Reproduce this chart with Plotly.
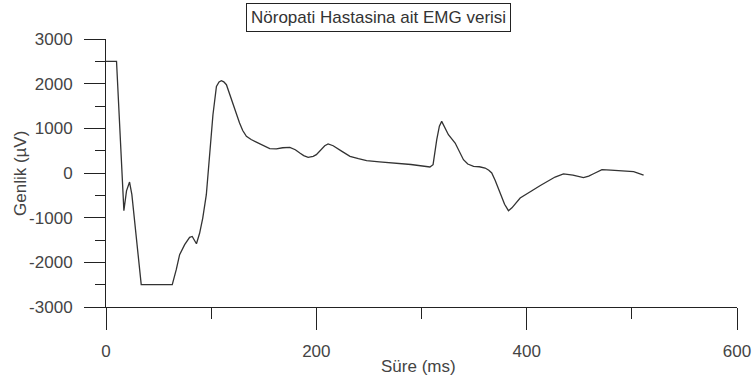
import plotly.graph_objects as go

# Time (ms) and amplitude (µV)
time_ms = [0, 10, 17, 19.5, 22.4, 24.6, 33.5, 63, 66.8, 70, 74.8, 79.5, 82, 86, 89, 92,
           95.4, 98.6, 101.7, 105, 107.5, 109.7, 112, 114.5, 117, 120.8, 124, 127, 130,
           133.5, 138, 143, 150, 155.7, 162, 168, 174.8, 180, 184.3, 188, 192.2, 197, 200,
           204, 208, 211.2, 216, 224, 232, 240, 247.8, 260, 273, 290, 308, 311, 314.5,
           317, 319.2, 322, 325.6, 332, 336, 339.9, 344, 349.5, 355, 360.5, 364, 366.8,
           370, 374.8, 379, 382.7, 386, 393.8, 400, 406.5, 413, 419.2, 427, 435, 444,
           454, 459, 463.6, 471.6, 480, 489, 501.7, 511.2]
amplitude_uv = [2500, 2500, -844, -400, -202, -486, -2500, -2500, -2165, -1829, -1605,
                -1441, -1420, -1583, -1350, -1008, -486, 410, 1305, 1940, 2040, 2067, 2040,
                1977, 1800, 1567, 1330, 1119, 950, 820, 750, 693, 610, 544, 540, 565, 573,
                520, 448, 390, 350, 372, 410, 520, 610, 649, 610, 490, 372, 320, 275, 250,
                224, 190, 134, 186, 746, 1050, 1155, 1010, 858, 672, 470, 298, 200, 148,
                140, 112, 60, 0, -160, -448, -700, -844, -780, -560, -460, -374, -280,
                -188, -90, -22, -50, -105, -70, -16, 74, 65, 51, 29, -45]

x_ticks = [0, 200, 400, 600]
y_ticks = [-3000, -2000, -1000, 0, 1000, 2000, 3000]

title_text = "Nöropati Hastasina ait EMG verisi"
x_title = "Süre (ms)"
y_title = "Genlik (µV)"

FONT = "Liberation Sans, Arial, sans-serif"
TXT = "#444444"
AX = "#222222"

fig = go.Figure()
fig.add_trace(go.Scatter(x=time_ms, y=amplitude_uv, mode="lines",
                         line=dict(color="#333333", width=1.3), showlegend=False,
                         hoverinfo="skip"))

fig.update_layout(
    width=753, height=385,
    margin=dict(l=106, r=16, t=39, b=78),
    paper_bgcolor="white", plot_bgcolor="white",
    font=dict(family=FONT, size=17, color=TXT),
    showlegend=False,
)

fig.update_xaxes(
    range=[0, 600], tickvals=x_ticks, ticktext=[str(v) for v in x_ticks],
    automargin=False,
    showgrid=False, zeroline=False, showline=True, linecolor=AX, linewidth=1,
    ticks="outside", ticklen=22, tickcolor=AX, tickwidth=1,
    minor=dict(dtick=100, tick0=0, ticks="outside", ticklen=11, tickcolor=AX, tickwidth=1, showgrid=False),
    tickfont=dict(family=FONT, size=17, color=TXT),
    ticklabelstandoff=7,
)
fig.update_yaxes(
    range=[-3000, 3000], tickvals=y_ticks, ticktext=[str(v) for v in y_ticks],
    automargin=False,
    showgrid=False, zeroline=False, showline=True, linecolor=AX, linewidth=1,
    ticks="outside", ticklen=21, tickcolor=AX, tickwidth=1,
    minor=dict(dtick=500, tick0=0, ticks="outside", ticklen=10, tickcolor=AX, tickwidth=1, showgrid=False),
    tickfont=dict(family=FONT, size=17, color=TXT),
    ticklabelstandoff=8,
)

fig.add_annotation(text=title_text, xref="paper", yref="paper",
                   x=(378.8 - 106) / 631, y=1 + (39 - 17.5) / 268,
                   xanchor="center", yanchor="middle", showarrow=False,
                   font=dict(family=FONT, size=17, color="#333333"),
                   bordercolor="#222222", borderwidth=1, borderpad=4, bgcolor="white")
fig.add_annotation(text=x_title, xref="paper", yref="paper",
                   x=(418 - 106) / 631, y=-(366 - 307) / 268,
                   xanchor="center", yanchor="middle", showarrow=False,
                   font=dict(family=FONT, size=17, color=TXT))
fig.add_annotation(text=y_title, xref="paper", yref="paper",
                   x=(20 - 106) / 631, y=(307 - 173) / 268,
                   xanchor="center", yanchor="middle", showarrow=False, textangle=-90,
                   font=dict(family=FONT, size=17, color=TXT))

fig.write_html("out.html", config={"displayModeBar": False},
               post_script="document.body.style.margin='0';")
